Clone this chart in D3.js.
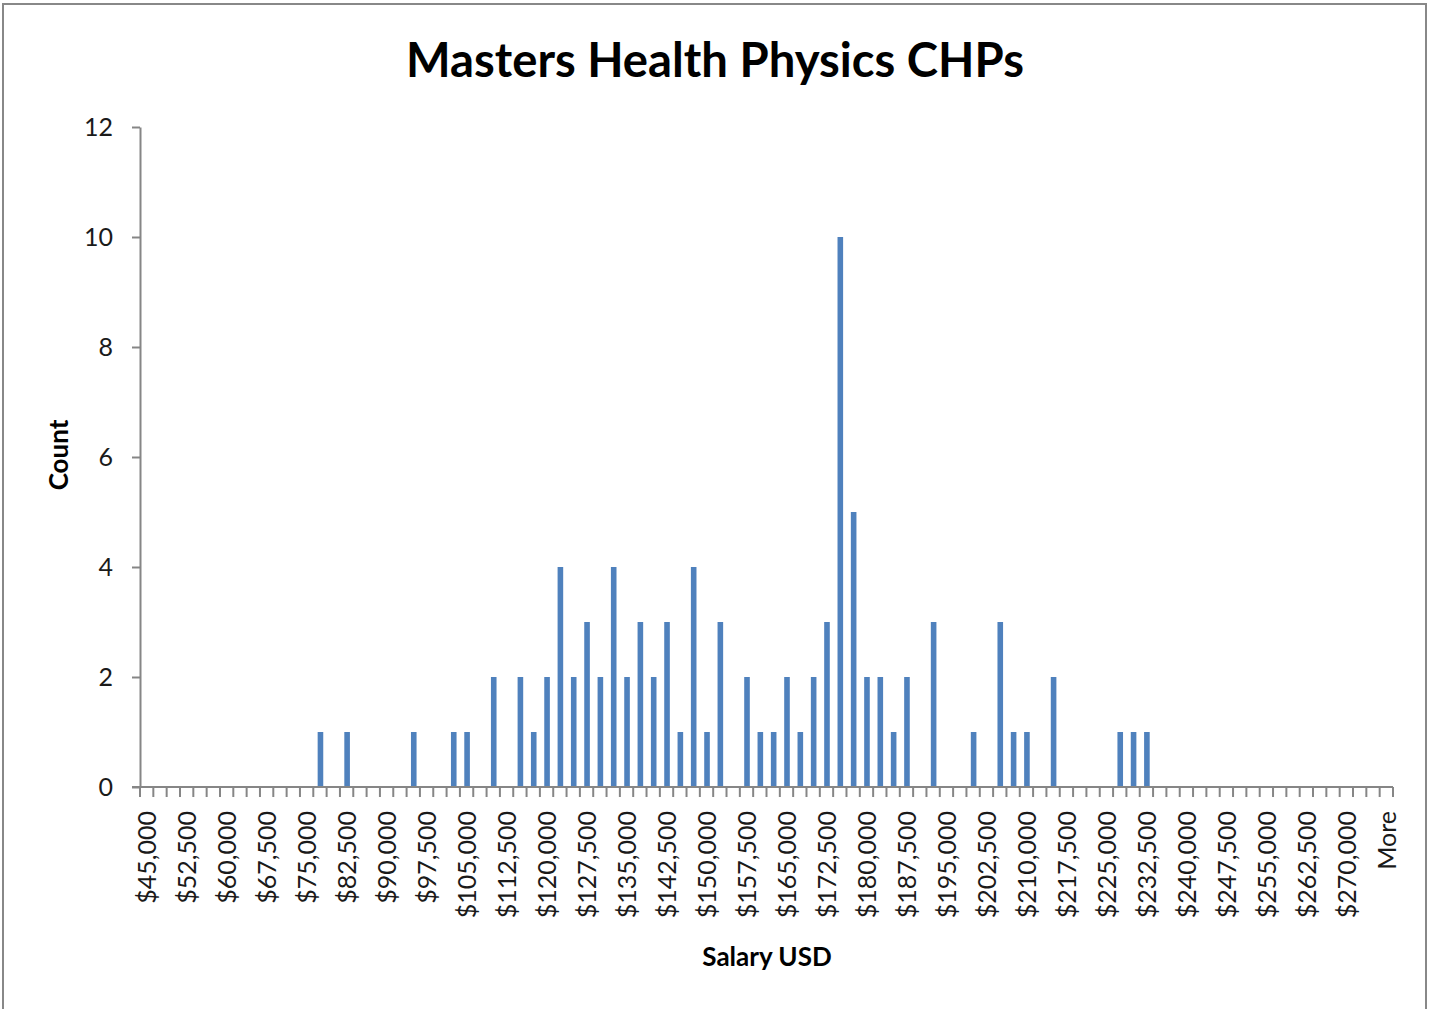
<!DOCTYPE html>
<html><head><meta charset="utf-8">
<script src="https://cdn.jsdelivr.net/npm/d3@7"></script>
<style>body{margin:0;background:#fff;} svg{display:block;}</style>
</head><body>
<svg id="chart" width="1429" height="1009"></svg>
<script>
// Bin labels ($45,000 .. $275,000 in $2,500 steps, then "More")
const binValues = [45000,47500,50000,52500,55000,57500,60000,62500,65000,67500,70000,72500,75000,77500,80000,82500,85000,87500,90000,92500,95000,97500,100000,102500,105000,107500,110000,112500,115000,117500,120000,122500,125000,127500,130000,132500,135000,137500,140000,142500,145000,147500,150000,152500,155000,157500,160000,162500,165000,167500,170000,172500,175000,177500,180000,182500,185000,187500,190000,192500,195000,197500,200000,202500,205000,207500,210000,212500,215000,217500,220000,222500,225000,227500,230000,232500,235000,237500,240000,242500,245000,247500,250000,252500,255000,257500,260000,262500,265000,267500,270000,272500,275000];
const categories = binValues.map(v => "$" + d3.format(",")(v)).concat(["More"]);
// Counts per bin
const counts = [0,0,0,0,0,0,0,0,0,0,0,0,0,1,0,1,0,0,0,0,1,0,0,1,1,0,2,0,2,1,2,4,2,3,2,4,2,3,2,3,1,4,1,3,0,2,1,1,2,1,2,3,10,5,2,2,1,2,0,3,0,0,1,0,3,1,1,0,2,0,0,0,0,1,1,1,0,0,0,0,0,0,0,0,0,0,0,0,0,0,0,0,0,0];
const yTicks = [0,2,4,6,8,10,12];
const titleText = "Masters Health Physics CHPs";
const xTitle = "Salary USD";
const yTitle = "Count";

(function(){
const svg = d3.select("#chart");
const font = "Lato, 'Open Sans', sans-serif";
const axisColor = "#868686";

// outer border
svg.append("path").attr("d","M3,1010 V4 H1426 V1010").attr("fill","none").attr("stroke","#888").attr("stroke-width",2);

const pL = 140, pR = 1393, pT = 127, pB = 787;
const xb = d3.scaleBand().domain(categories).range([pL, pR]);
const y = d3.scaleLinear().domain([0, 12]).range([pB, pT]);

// bars
svg.append("g").selectAll("rect").data(categories.map((c,i)=>({c, v: counts[i]})).filter(d=>d.v>0))
  .join("rect")
  .attr("x", d => xb(d.c) + xb.bandwidth()/2 - 2.3)
  .attr("width", 5.6)
  .attr("y", d => y(d.v))
  .attr("height", d => y(0) - y(d.v))
  .attr("fill", "#4F81BD");

// y axis
const yAxis = svg.append("g").attr("transform", `translate(${pL},0)`)
  .call(d3.axisLeft(y).tickValues(yTicks).tickSize(8).tickPadding(19).tickSizeOuter(0));
yAxis.select(".domain").attr("stroke", axisColor).attr("stroke-width", 2);
yAxis.selectAll(".tick line").attr("stroke", axisColor).attr("stroke-width", 2);
yAxis.selectAll(".tick text").attr("font-family", font).attr("font-size", 25).attr("fill", "#1a1a1a");

// x axis line
svg.append("line").attr("x1", pL - 8).attr("x2", pR).attr("y1", pB).attr("y2", pB)
  .attr("stroke", axisColor).attr("stroke-width", 2);
// tick marks at band boundaries
const boundaries = categories.map(c => xb(c)).concat([pR]);
svg.append("g").selectAll("line").data(boundaries).join("line")
  .attr("x1", d => d).attr("x2", d => d).attr("y1", pB).attr("y2", pB + 10)
  .attr("stroke", axisColor).attr("stroke-width", 2);

// x labels every 3rd category
svg.append("g").selectAll("text").data(categories.filter((c,i)=> i % 3 === 0))
  .join("text")
  .attr("transform", d => `translate(${xb(d) + xb.bandwidth()/2 + 1},${pB + 24}) rotate(-90)`)
  .attr("text-anchor", "end").attr("dy", "0.35em")
  .attr("font-family", font).attr("font-size", 25).attr("fill", "#1a1a1a")
  .text(d => d);

// title
const t = svg.append("text").attr("x", 715).attr("y", 77).attr("text-anchor", "middle")
  .attr("font-family", font).attr("font-weight", "bold").attr("font-size", 42).attr("fill", "#000")
  .text(titleText);
const tw = t.node().getComputedTextLength();
t.attr("font-size", 42 * 618 / tw);

svg.append("text").attr("x", 767).attr("y", 966).attr("text-anchor", "middle")
  .attr("font-family", font).attr("font-weight", "bold").attr("font-size", 26).attr("fill", "#000")
  .text(xTitle);
svg.append("text").attr("transform", "translate(68,455) rotate(-90)").attr("text-anchor", "middle")
  .attr("font-family", font).attr("font-weight", "bold").attr("font-size", 26).attr("fill", "#000")
  .text(yTitle);
})();
</script>
</body></html>
